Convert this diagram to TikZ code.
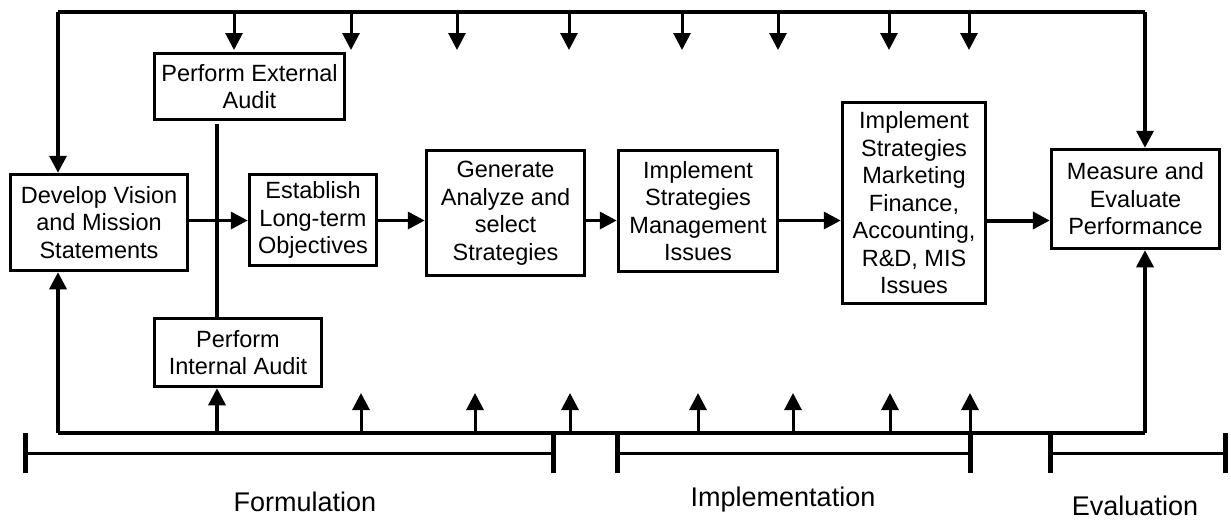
\documentclass[tikz,border=0pt]{standalone}
\usepackage{fontspec}
\setmainfont{Liberation Sans}
\usetikzlibrary{arrows.meta}
\begin{document}
\begin{tikzpicture}[x=1pt,y=-1pt,
  stage/.style={draw, line width=3.5pt, align=center, inner sep=0pt,
                font=\fontsize{23.5}{27.5}\selectfont},
  tip/.style={-{Triangle[length=17pt,width=17pt]}},
  flow/.style={line width=3.5pt, tip},
  loopline/.style={line width=3.5pt},
  stub/.style={line width=3pt, tip},
  phase/.style={line width=3pt},
  tick/.style={line width=5pt},
  phaselabel/.style={font=\fontsize{27}{31}\selectfont}]
\useasboundingbox (0,0) rectangle (1231,520);

% process stages
\node[stage, minimum width=177pt, minimum height=96pt] (dev) at (99,222.5)
  {Develop Vision\\and Mission\\Statements};
\node[stage, minimum width=190pt, minimum height=66pt] (ext) at (249.5,86.5)
  {Perform External\\Audit};
\node[stage, minimum width=127pt, minimum height=91pt] (est) at (313,220)
  {Establish\\Long-term\\Objectives};
\node[stage, minimum width=167pt, minimum height=68pt] (int) at (238,352.5)
  {Perform\\Internal Audit};
\node[stage, minimum width=158pt, minimum height=125pt] (gen) at (505.5,213)
  {Generate\\Analyze and\\select\\Strategies};
\node[stage, minimum width=159pt, minimum height=121pt] (mgmt) at (698,211)
  {Implement\\Strategies\\Management\\Issues};
\node[stage, minimum width=143pt, minimum height=201pt] (mkt) at (914,203)
  {Implement\\Strategies\\Marketing\\Finance,\\Accounting,\\R\&D, MIS\\Issues};
\node[stage, minimum width=168pt, minimum height=99pt] (meas) at (1135.5,199)
  {Measure and\\Evaluate\\Performance};

% main flow
\coordinate (fy) at (0,220.5);
\coordinate (vx) at (217,0);
\draw[loopline, shorten <=3pt] (ext.south -| vx) -- (int.north -| vx);
\draw[flow] (dev.east |- fy) -- (est.west |- fy);
\draw[flow] (est.east |- fy) -- (gen.west |- fy);
\draw[flow] (gen.east |- fy) -- (mgmt.west |- fy);
\draw[flow] (mgmt.east |- fy) -- (mkt.west |- fy);
\draw[flow, line width=4pt] (mkt.east |- fy) -- (meas.west |- fy);

% feedback loop across the top
\coordinate (tl) at (58,12);
\coordinate (tr) at (1145,12);
\draw[loopline] (tl) -- (tr);
\draw[flow] (tl) -- (tl |- dev.north);
\draw[flow] (tr) -- (tr |- meas.north);
\foreach \x [count=\i] in {234,351,457,569,682,778,889,969}
  {\coordinate (td\i) at (\x,50);
   \draw[stub] (td\i |- tl) -- (td\i);}

% feedback loop across the bottom
\coordinate (bl) at (58,433);
\coordinate (br) at (1145,433);
\draw[loopline] (bl) -- (br);
\draw[flow] (bl) -- (bl |- dev.south);
\draw[flow] (br) -- (br |- meas.south);
\draw[stub, line width=3.5pt] (bl -| vx) -- (int.south -| vx);
\foreach \x [count=\i] in {361,475,570,698,793,890,970}
  {\coordinate (bu\i) at (\x,393);
   \draw[stub] (bu\i |- bl) -- (bu\i);}

% phase bars
\coordinate (f1) at (25,453);   \coordinate (f2) at (553,453);
\coordinate (i1) at (617,453);  \coordinate (i2) at (970,453);
\coordinate (e1) at (1050,453); \coordinate (e2) at (1225,453);
\foreach \a/\b in {f1/f2,i1/i2,e1/e2}
  {\draw[phase] (\a) -- (\b);
   \draw[tick] ([yshift=-20pt]\a) -- ([yshift=20pt]\a);
   \draw[tick] ([yshift=-20pt]\b) -- ([yshift=20pt]\b);}

\node[phaselabel] (form) at (305,502) {Formulation};
\node[phaselabel] (impl) at (783,500) {Implementation};
\node[phaselabel] (eval) at (1135,506) {Evaluation};
\end{tikzpicture}
\end{document}
